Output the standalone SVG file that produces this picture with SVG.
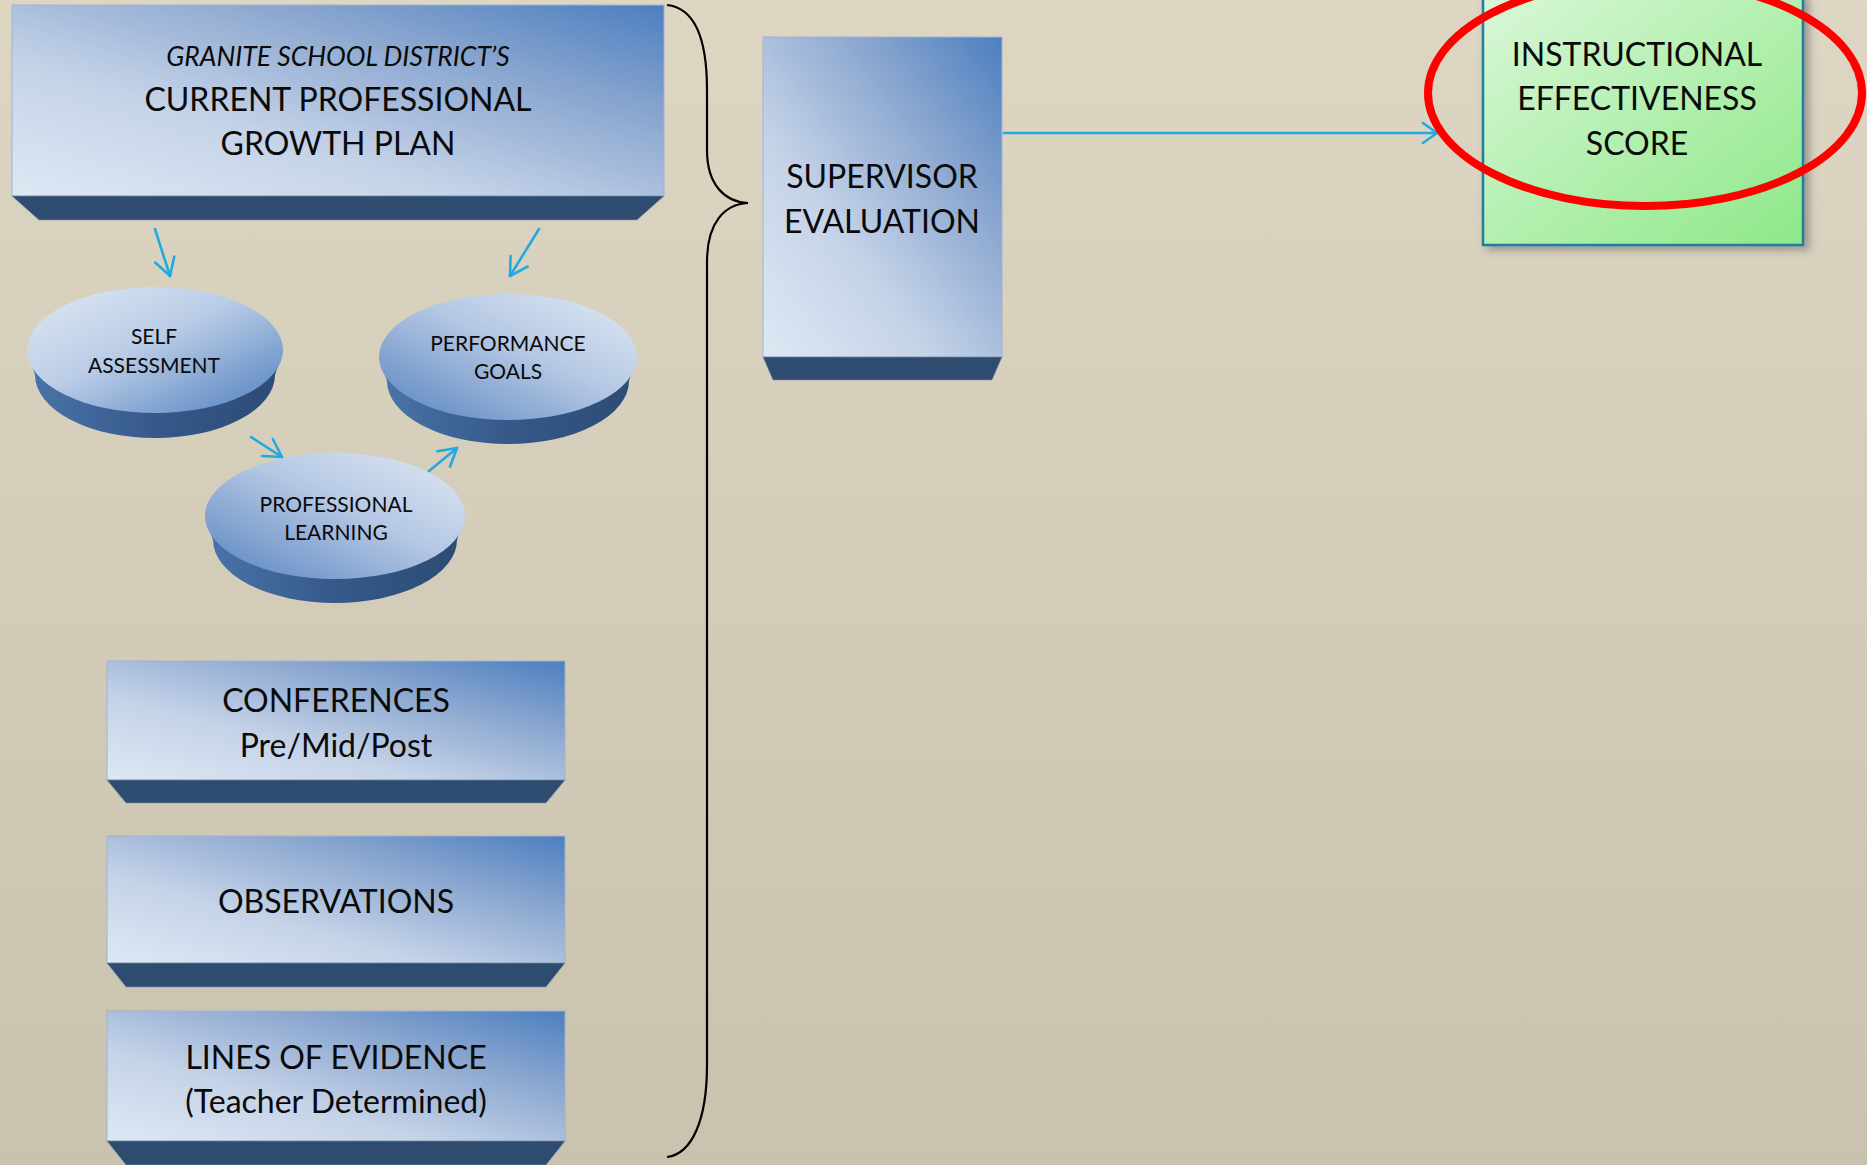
<svg xmlns="http://www.w3.org/2000/svg" width="1867" height="1165" viewBox="0 0 1867 1165">
  <defs>
    <linearGradient id="bg" x1="0" y1="0" x2="0" y2="1">
      <stop offset="0" stop-color="#DDD6C3"/>
      <stop offset="1" stop-color="#C9C2AF"/>
    </linearGradient>
    <linearGradient id="face" x1="0" y1="1" x2="1" y2="0">
      <stop offset="0" stop-color="#DEE8F4"/>
      <stop offset="0.35" stop-color="#C5D3E8"/>
      <stop offset="0.7" stop-color="#8AA6CF"/>
      <stop offset="1" stop-color="#4C7FC0"/>
    </linearGradient>
    <linearGradient id="discA" x1="0" y1="0" x2="1" y2="1">
      <stop offset="0" stop-color="#E0E9F5"/>
      <stop offset="0.45" stop-color="#BACCE6"/>
      <stop offset="1" stop-color="#4F80C0"/>
    </linearGradient>
    <linearGradient id="discB" x1="1" y1="0" x2="0" y2="1">
      <stop offset="0" stop-color="#E0E9F5"/>
      <stop offset="0.45" stop-color="#B4C7E3"/>
      <stop offset="1" stop-color="#5783C0"/>
    </linearGradient>
    <linearGradient id="side" x1="0" y1="0" x2="1" y2="0">
      <stop offset="0" stop-color="#4A74AA"/>
      <stop offset="0.5" stop-color="#36598A"/>
      <stop offset="1" stop-color="#2C4B74"/>
    </linearGradient>
    <linearGradient id="green" x1="0" y1="0" x2="1" y2="1">
      <stop offset="0" stop-color="#DAF7D8"/>
      <stop offset="1" stop-color="#8DE888"/>
    </linearGradient>
    <filter id="shadow" x="-10%" y="-10%" width="130%" height="130%">
      <feDropShadow dx="5" dy="4" stdDeviation="4" flood-color="#555" flood-opacity="0.5"/>
    </filter>
    <marker id="arrS" viewBox="0 0 20 22" refX="18.3" refY="11" markerWidth="20" markerHeight="22" markerUnits="userSpaceOnUse" orient="auto" overflow="visible">
      <path d="M1,1 L18.3,11 L1,21" fill="none" stroke="#22A9E1" stroke-width="2.6" stroke-linecap="round" stroke-linejoin="round"/>
    </marker>
    <marker id="arrL" viewBox="0 0 16 22" refX="15" refY="11" markerWidth="16" markerHeight="22" markerUnits="userSpaceOnUse" orient="auto" overflow="visible">
      <path d="M1,1 L15,11 L1,21" fill="none" stroke="#22A9E1" stroke-width="2.5" stroke-linecap="round" stroke-linejoin="round"/>
    </marker>
  </defs>
  <style>
    .face { fill: url(#face); stroke: #9FB3CF; stroke-width: 1; }
    .band { fill: #2E4C70; stroke: #7F93AE; stroke-width: 0.6; }
    .side { fill: url(#side); }
    .lbl { font-family: Lato, "Open Sans", "Liberation Sans", sans-serif; font-size: 32px; fill: #0A0A0A; text-anchor: middle; }
    .sm { font-size: 21px; }
    .it { font-style: italic; font-size: 26.5px; }
    .conn { fill: none; stroke: #22A9E1; stroke-width: 2.6; stroke-linecap: round; }
    .brace { fill: none; stroke: #000; stroke-width: 2.2; }
  </style>

  <rect x="0" y="0" width="1867" height="1165" fill="url(#bg)"/>

  <g id="growth-plan">
    <rect class="face" x="12" y="5" width="652" height="191"/>
    <polygon class="band" points="12,196 664,196 637,220 39,220"/>
    <text class="lbl it" x="338" y="66">GRANITE SCHOOL DISTRICT’S</text>
    <text class="lbl" x="338" y="111">CURRENT PROFESSIONAL</text>
    <text class="lbl" x="338" y="155">GROWTH PLAN</text>
  </g>

  <g id="self-assessment">
    <path class="side" d="M27,350 L35,375 A120,63 0 0 0 275,375 L283,350 Z"/>
    <ellipse cx="155" cy="350" rx="128" ry="63" fill="url(#discA)"/>
    <text class="lbl sm" x="154" y="344">SELF</text>
    <text class="lbl sm" x="154" y="373">ASSESSMENT</text>
  </g>

  <g id="performance-goals">
    <path class="side" d="M379,357 L387,381 A121,63 0 0 0 629,381 L637,357 Z"/>
    <ellipse cx="508" cy="357" rx="129" ry="63" fill="url(#discB)"/>
    <text class="lbl sm" x="508" y="351">PERFORMANCE</text>
    <text class="lbl sm" x="508" y="379">GOALS</text>
  </g>

  <g id="professional-learning">
    <path class="side" d="M205,516 L213,540 A122,63 0 0 0 457,540 L465,516 Z"/>
    <ellipse cx="335" cy="516" rx="130" ry="63" fill="url(#discB)"/>
    <text class="lbl sm" x="336" y="512">PROFESSIONAL</text>
    <text class="lbl sm" x="336" y="540">LEARNING</text>
  </g>

  <g id="conferences">
    <rect class="face" x="107" y="661" width="458" height="119"/>
    <polygon class="band" points="107,780 565,780 546,803 126,803"/>
    <text class="lbl" x="336" y="712">CONFERENCES</text>
    <text class="lbl" x="336" y="757">Pre/Mid/Post</text>
  </g>

  <g id="observations">
    <rect class="face" x="107" y="836" width="458" height="127"/>
    <polygon class="band" points="107,963 565,963 546,987 126,987"/>
    <text class="lbl" x="336" y="913">OBSERVATIONS</text>
  </g>

  <g id="lines-of-evidence">
    <rect class="face" x="107" y="1011" width="458" height="130"/>
    <polygon class="band" points="107,1141 565,1141 546,1165 126,1165"/>
    <text class="lbl" x="336" y="1069">LINES OF EVIDENCE</text>
    <text class="lbl" x="336" y="1113">(Teacher Determined)</text>
  </g>

  <g id="supervisor-evaluation">
    <rect class="face" x="763" y="37" width="239" height="320"/>
    <polygon class="band" points="763,357 1002,357 992,380 773,380"/>
    <text class="lbl" x="882" y="188">SUPERVISOR</text>
    <text class="lbl" x="882" y="233">EVALUATION</text>
  </g>

  <g id="instructional-effectiveness-score">
    <rect x="1483" y="-6" width="320" height="251" fill="url(#green)" stroke="#1F80A2" stroke-width="2.5" filter="url(#shadow)"/>
    <text class="lbl" x="1637" y="66">INSTRUCTIONAL</text>
    <text class="lbl" x="1637" y="110">EFFECTIVENESS</text>
    <text class="lbl" x="1637" y="155">SCORE</text>
  </g>

  <g id="connectors">
    <path class="brace" d="M667,5 C695,8 707,40 707,90 L707,150 C707,185 725,202 748,203 C725,204 707,222 707,262 L707,1065 C707,1120 692,1154 667,1157"/>
    <line class="conn" x1="155" y1="229" x2="170" y2="276" marker-end="url(#arrS)"/>
    <line class="conn" x1="539" y1="229" x2="510" y2="276" marker-end="url(#arrS)"/>
    <line class="conn" x1="251" y1="437" x2="282" y2="457" marker-end="url(#arrS)"/>
    <line class="conn" x1="429" y1="471" x2="457" y2="448" marker-end="url(#arrS)"/>
    <line class="conn" x1="1004" y1="133" x2="1437" y2="133" marker-end="url(#arrL)"/>
  </g>

  <g id="highlight">
    <ellipse cx="1645" cy="93" rx="217" ry="113" fill="none" stroke="#FF0000" stroke-width="8"/>
  </g>
</svg>
